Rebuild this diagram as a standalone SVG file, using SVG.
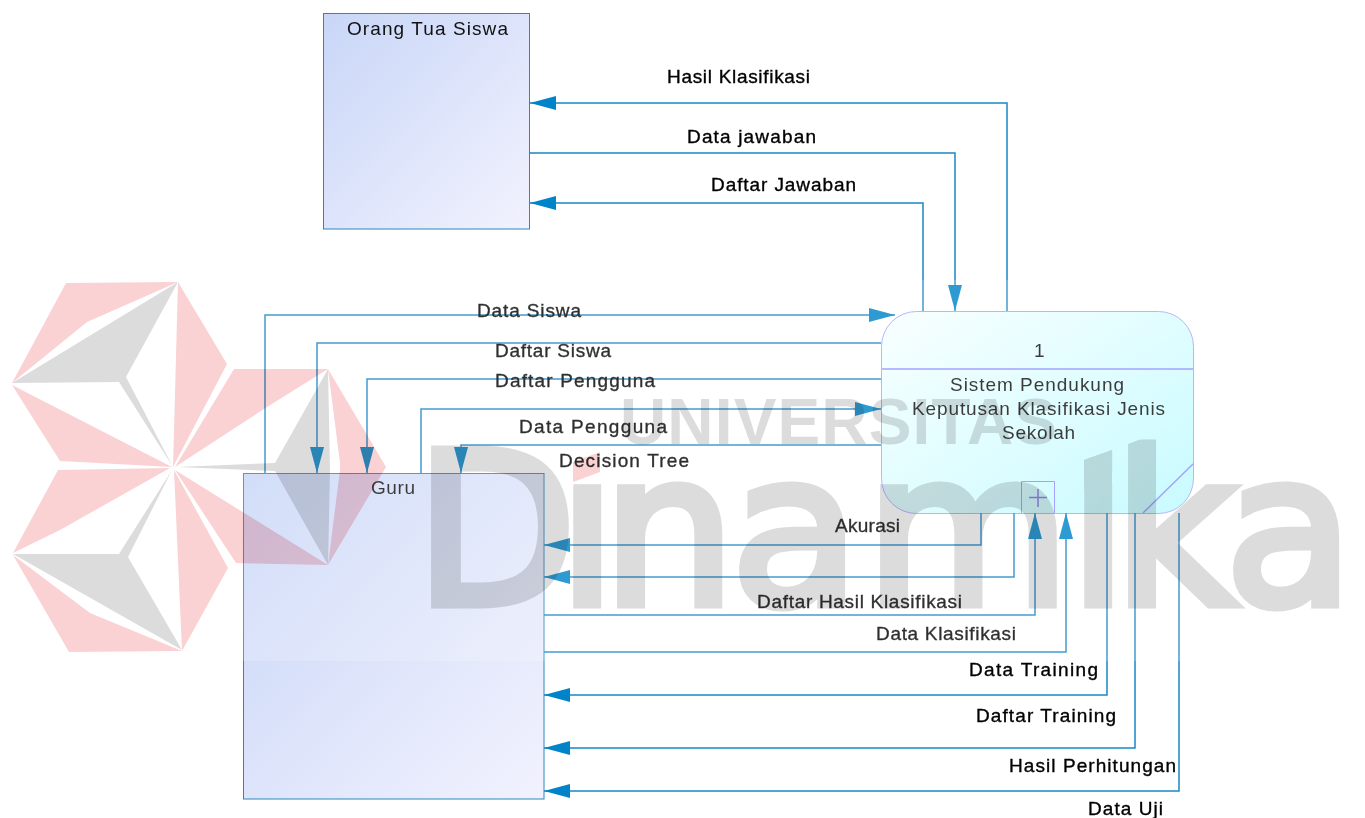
<svg xmlns="http://www.w3.org/2000/svg" width="1365" height="818" viewBox="0 0 1365 818">
<style>
text{font-family:"Liberation Sans",Arial,sans-serif;font-size:19px;fill:#111}
.lab{fill:#000;stroke:#000;stroke-width:.35px}
.c{fill:none;stroke:#1a86c6;stroke-width:1.5}
.ext{stroke:#2b88bf;stroke-width:1}
.pl{fill:none;stroke:#8f8fff}
#watermark{mix-blend-mode:multiply}
.pk{fill:#fad2d4}.gy{fill:#dcdcdc}
.wt{fill:#dcdcdc;stroke:#dcdcdc}
</style>
<defs>
<linearGradient id="gb" x1="0" y1="0" x2="1" y2="1"><stop offset="0" stop-color="#c8d6f7"/><stop offset="1" stop-color="#f2f2fe"/></linearGradient>
<linearGradient id="gp" x1="0" y1="0" x2="1" y2="1"><stop offset="0" stop-color="#f8ffff"/><stop offset="1" stop-color="#bcfbff"/></linearGradient>
<marker id="a" markerUnits="userSpaceOnUse" markerWidth="26" markerHeight="14" refX="26" refY="7" orient="auto"><path d="M0 0L26 7L0 14Z" fill="#0084c9"/></marker>
<clipPath id="nodot"><path clip-rule="evenodd" d="M0 0H1365V818H0ZM566 430H606V484H566ZM1078 425H1118V448L1078 462ZM1120 425H1160V432L1120 447Z"/></clipPath>
</defs>
<g id="orang-tua-siswa"><rect class="ext" x="323.500" y="13.500" width="206" height="215.500" fill="url(#gb)"/><text x="347" y="35" textLength="161">Orang Tua Siswa</text></g>
<g id="guru"><rect class="ext" x="243.500" y="473.500" width="300.500" height="325.500" fill="url(#gb)"/><text x="371" y="494" textLength="44">Guru</text></g>
<g id="proses-1"><rect x="881.500" y="311.500" width="312" height="202" rx="35" fill="url(#gp)" stroke="#a6a6ff"/>
<path class="pl" stroke-width="1.500" d="M882 369H1193M1143 513L1193 464"/>
<path class="pl" d="M1021.500 513V481.500H1054.500V513"/><path stroke-width="1.500" fill="none" stroke="#7a6ce0" d="M1029 497.500H1047M1038 489V507"/>
<text x="1034" y="357">1</text>
<text x="950" y="391" textLength="174">Sistem Pendukung</text>
<text x="912" y="415" textLength="253">Keputusan Klasifikasi Jenis</text>
<text x="1002" y="439" textLength="73">Sekolah</text></g>
<g id="connectors">
<path class="c" marker-end="url(#a)" d="M1007 311V103H530"/>
<path class="c" marker-end="url(#a)" d="M529 153H955V311"/>
<path class="c" marker-end="url(#a)" d="M923 311V203H530"/>
<path class="c" marker-end="url(#a)" d="M265 473V315H895"/>
<path class="c" marker-end="url(#a)" d="M881 343H317V473"/>
<path class="c" marker-end="url(#a)" d="M881 379H367V473"/>
<path class="c" marker-end="url(#a)" d="M421 473V409H881"/>
<path class="c" marker-end="url(#a)" d="M881 445H461V473"/>
<path class="c" marker-end="url(#a)" d="M981 513V545H544"/>
<path class="c" marker-end="url(#a)" d="M1014 513V577H544"/>
<path class="c" marker-end="url(#a)" d="M544 615H1035V513"/>
<path class="c" marker-end="url(#a)" d="M544 652H1066V513"/>
<path class="c" marker-end="url(#a)" d="M1107 513V695H544"/>
<path class="c" marker-end="url(#a)" d="M1135 513V748H544"/>
<path class="c" marker-end="url(#a)" d="M1179 513V791H544"/>
</g>
<g id="labels">
<text class="lab" x="667" y="83" textLength="143">Hasil Klasifikasi</text>
<text class="lab" x="687" y="143" textLength="129">Data jawaban</text>
<text class="lab" x="711" y="191" textLength="145">Daftar Jawaban</text>
<text class="lab" x="477" y="317" textLength="104">Data Siswa</text>
<text class="lab" x="495" y="357" textLength="116">Daftar Siswa</text>
<text class="lab" x="495" y="387" textLength="160">Daftar Pengguna</text>
<text class="lab" x="519" y="433" textLength="148">Data Pengguna</text>
<text class="lab" x="559" y="467" textLength="130">Decision Tree</text>
<text class="lab" x="835" y="532" textLength="65">Akurasi</text>
<text class="lab" x="757" y="608" textLength="205">Daftar Hasil Klasifikasi</text>
<text class="lab" x="876" y="640" textLength="140">Data Klasifikasi</text>
<text class="lab" x="969" y="676" textLength="129">Data Training</text>
<text class="lab" x="976" y="722" textLength="140">Daftar Training</text>
<text class="lab" x="1009" y="772" textLength="167">Hasil Perhitungan</text>
<text class="lab" x="1088" y="815" textLength="75">Data Uji</text>
</g>
<rect id="veil" x="0" y="280" width="1365" height="381" fill="#fff" opacity=".18"/>
<g id="watermark">
<path class="pk" d="M66 283L178 282L87 322L12 383ZM178 282L227 364L173 467ZM12 385L60 461L172 467ZM234 369H328L267 407L175 467ZM328 369L386 467L328 565L340 470V463ZM175 470L328 565L236 563ZM58 470L170 468L60 530L13 553ZM13 555L90 613L182 651L69 652ZM174 470L228 568L182 651ZM573 462L600 452V472L573 482Z"/>
<path class="gy" d="M12 383L178 282L126 377L173 467L119 382ZM328 369L275 463L177 467L275 471L328 565L330 470ZM13 554H119L172 470L128 557L182 650ZM1084 460L1112 450V490H1084Z"/>
<text class="wt" x="620" y="444" style="font-size:64px;font-weight:700;stroke-width:0" textLength="437">UNIVERSITAS</text>
<text class="wt" clip-path="url(#nodot)" y="603.500" x="415 558 602.500 731 865.500 1069 1113.500 1225" style="font-family:'DejaVu Sans',sans-serif;font-size:210px;stroke-width:9">Dinamika</text>
</g>
</svg>
